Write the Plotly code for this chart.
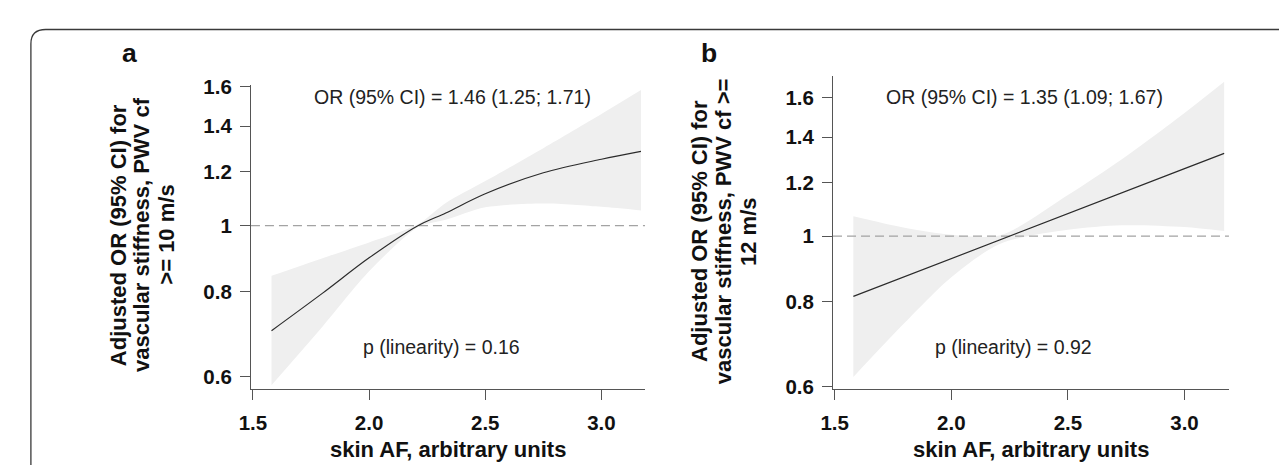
import plotly.graph_objects as go

# ---------------- data ----------------
# Panel a: PWV cf >= 10 m/s
xa = [1.58, 1.8, 2.0, 2.21, 2.33, 2.5, 2.75, 3.0, 3.17]
or_a = [0.701, 0.796, 0.897, 1.000, 1.044, 1.114, 1.196, 1.252, 1.286]
upper_a = [0.844, 0.896, 0.945, 1.005, 1.080, 1.163, 1.300, 1.459, 1.582]
lower_a = [0.583, 0.711, 0.857, 0.995, 1.020, 1.064, 1.078, 1.066, 1.053]

# Panel b: PWV cf >= 12 m/s
xb = [1.58, 1.8, 2.0, 2.21, 2.5, 2.73, 3.0, 3.17]
or_b = [0.815, 0.872, 0.927, 0.988, 1.080, 1.158, 1.258, 1.325]
upper_b = [1.070, 1.029, 1.005, 1.003, 1.150, 1.298, 1.520, 1.690]
lower_b = [0.620, 0.745, 0.870, 0.975, 1.022, 1.038, 1.032, 1.018]

x_ticks = [1.5, 2.0, 2.5, 3.0]
x_ticklabels = ["1.5", "2.0", "2.5", "3.0"]
y_ticks = [0.6, 0.8, 1.0, 1.2, 1.4, 1.6]
y_ticklabels = ["0.6", "0.8", "1", "1.2", "1.4", "1.6"]

ref_value = 1.0

text_or_a = "OR (95% CI) = 1.46 (1.25; 1.71)"
text_p_a = "p (linearity) = 0.16"
text_or_b = "OR (95% CI) = 1.35 (1.09; 1.67)"
text_p_b = "p (linearity) = 0.92"
xtitle = "skin AF, arbitrary units"
ytitle_a = ["Adjusted OR (95% CI) for", "vascular stiffness, PWV cf", ">= 10 m/s"]
ytitle_b = ["Adjusted OR (95% CI) for", "vascular stiffness, PWV cf >=", "12 m/s"]

# ---------------- layout constants ----------------
W, H = 1287, 465
FONT = "Liberation Sans, Arial, sans-serif"
BAND = "#efefef"
LINE = "#2b2b2b"
AXIS = "#555555"

xrange_a = [1.4915, 3.188]
yrange_a = [-0.2398, 0.2065]
xrange_b = [1.4928, 3.1906]
yrange_b = [-0.2253, 0.2371]


def px(x):
    return x / W


def py(y):
    return 1 - y / H


fig = go.Figure()


def add_panel(x, orv, up, lo, xr, xa_name, ya_name, shape):
    fig.add_trace(go.Scatter(
        x=x, y=lo, mode="lines", line=dict(width=0, shape="spline", smoothing=0.8),
        hoverinfo="skip", showlegend=False, xaxis=xa_name, yaxis=ya_name))
    fig.add_trace(go.Scatter(
        x=x, y=up, mode="lines", fill="tonexty", fillcolor=BAND,
        line=dict(width=0, shape="spline", smoothing=0.8),
        hoverinfo="skip", showlegend=False, xaxis=xa_name, yaxis=ya_name))
    fig.add_trace(go.Scatter(
        x=[xr[0], xr[1]], y=[ref_value, ref_value], mode="lines",
        line=dict(color="#a3a3a3", width=1.3, dash="9px,5px"),
        hoverinfo="skip", showlegend=False, xaxis=xa_name, yaxis=ya_name))
    fig.add_trace(go.Scatter(
        x=x, y=orv, mode="lines", line=dict(color=LINE, width=1.2, shape=shape, smoothing=0.9),
        showlegend=False, xaxis=xa_name, yaxis=ya_name))


add_panel(xa, or_a, upper_a, lower_a, xrange_a, "x", "y", "spline")
add_panel(xb, or_b, upper_b, lower_b, xrange_b, "x2", "y2", "linear")

tickfont = dict(family=FONT, size=20.5, color="#111", weight="bold")

common_x = dict(tickvals=x_ticks, ticktext=x_ticklabels, ticks="outside", ticklen=10,
                tickcolor=AXIS, tickwidth=1, showline=True, linecolor=AXIS, linewidth=1,
                showgrid=False, zeroline=False, tickfont=tickfont, ticklabelstandoff=6)
common_y = dict(type="log", tickvals=y_ticks, ticktext=y_ticklabels, ticks="outside", ticklen=10,
                tickcolor=AXIS, tickwidth=1, showline=True, linecolor=AXIS, linewidth=1,
                showgrid=False, zeroline=False, tickfont=tickfont, ticklabelstandoff=4)

fig.update_layout(
    width=W, height=H, margin=dict(l=0, r=0, t=0, b=0),
    paper_bgcolor="white", plot_bgcolor="white",
    xaxis=dict(domain=[px(232.3), px(630.5)], range=xrange_a, anchor="y", **common_x),
    yaxis=dict(domain=[py(386.7), py(70)], range=yrange_a, anchor="x", **common_y),
    xaxis2=dict(domain=[px(820.3), px(1220.3)], range=xrange_b, anchor="y2", **common_x),
    yaxis2=dict(domain=[py(386.7), py(60)], range=yrange_b, anchor="x2", **common_y),
)

ann = []
txtfont = dict(family=FONT, size=19.5, color="#222")


def add_text(t, x, y, font, angle=0):
    ann.append(dict(text=t, x=px(x), y=py(y), xref="paper", yref="paper", textangle=angle,
                    showarrow=False, font=font, xanchor="center", yanchor="middle"))


add_text(text_or_a, 435.5, 82, txtfont)
add_text(text_p_a, 424.8, 343, txtfont)
add_text(text_or_b, 1013.9, 82, txtfont)
add_text(text_p_b, 1002.6, 343, txtfont)

xtfont = dict(family=FONT, size=22, color="#111", weight="bold")
add_text(xtitle, 431.4, 450, xtfont)
add_text(xtitle, 1020.3, 450, xtfont)

ytfont = dict(family=FONT, size=22, color="#111", weight="bold")
for lines, xs, yc in ((ytitle_a, (98.4, 122.4, 147.4), 226),
                      (ytitle_b, (685.5, 710, 735), 222.5)):
    for t, xx in zip(lines, xs):
        add_text(t, xx, yc, ytfont, angle=-90)

labfont = dict(family=FONT, size=26.5, color="#111", weight="bold")
add_text("a", 109.2, 37, labfont)
add_text("b", 695, 37, labfont)
fig.update_layout(annotations=ann)

# outer rounded frame (only the top-left corner is visible)
r = 15
path = (f"M {px(10)},{py(475)} L {px(10)},{py(12 + r)} "
        f"Q {px(10)},{py(12)} {px(10 + r)},{py(12)} L {px(1300)},{py(12)}")
fig.add_shape(type="path", path=path, xref="paper", yref="paper",
              line=dict(color="#3a3a3a", width=1.3))

fig.write_html("out.html")
